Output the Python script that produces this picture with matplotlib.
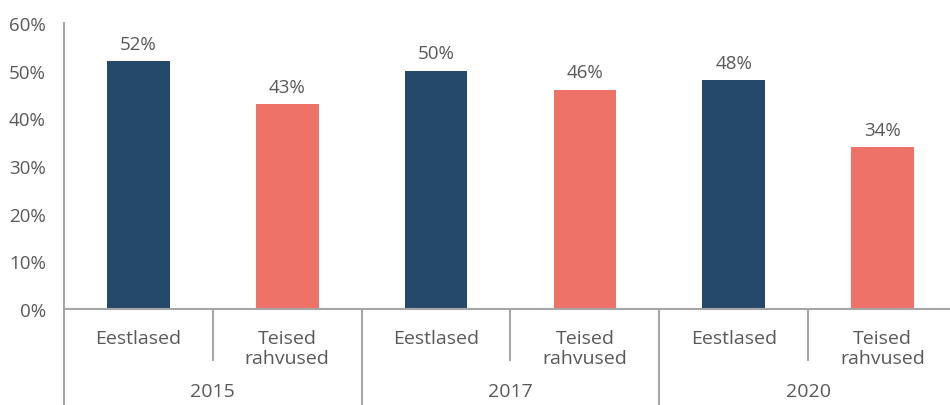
import matplotlib
matplotlib.use("Agg")
import matplotlib.pyplot as plt
from matplotlib.lines import Line2D

years = ["2015", "2017", "2020"]
groups = ["Eestlased", "Teised\nrahvused"]
values = [52, 43, 50, 46, 48, 34]
labels = ["52%", "43%", "50%", "46%", "48%", "34%"]
yticks = [0, 10, 20, 30, 40, 50, 60]

plt.rcParams['font.family'] = ['Open Sans', 'DejaVu Sans']
text_color = "#595959"
line_color = "#A6A6A6"
colors = ["#24496B", "#EE7268"]

fig = plt.figure(figsize=(9.5, 4.06), dpi=100)
W, H = 950, 406
ax = fig.add_axes([64 / W, (H - 310) / H, (957 - 64) / W, (310 - 24) / H])

n = len(values)
xs = list(range(n))
bar_colors = [colors[i % 2] for i in range(n)]
bars = ax.bar(xs, values, width=0.42, color=bar_colors, zorder=2)
for b, lab in zip(bars, labels):
    ax.annotate(lab, (b.get_x() + b.get_width() / 2, b.get_height()),
                xytext=(0, 6), textcoords="offset points",
                ha="center", va="bottom", fontsize=13.5, color=text_color)

ax.set_xlim(-0.5, n - 0.5)
ax.set_ylim(0, 60)
ax.set_yticks(yticks)
ax.set_yticklabels([f"{t}%" for t in yticks])
ax.tick_params(axis="y", length=0, pad=13, labelsize=13.5, labelcolor=text_color)
ax.set_xticks([])

for s in ["top", "right"]:
    ax.spines[s].set_visible(False)
for s in ["left", "bottom"]:
    ax.spines[s].set_color(line_color)
    ax.spines[s].set_linewidth(1.5)

trans = ax.get_xaxis_transform()
# sub-category labels
for i in range(n):
    ax.text(i, -0.07, groups[i % 2], transform=trans, ha="center", va="top",
            fontsize=14, color=text_color, linespacing=1.12)
# year labels
for j, y in enumerate(years):
    ax.text(2 * j + 0.5, -0.255, y, transform=trans, ha="center", va="top",
            fontsize=14, color=text_color)
# separators
for j in range(len(years)):
    ax.add_line(Line2D([2 * j + 0.5, 2 * j + 0.5], [0, -0.178], transform=trans,
                       color=line_color, lw=1.5, clip_on=False))
for j in range(len(years) + 1):
    ax.add_line(Line2D([2 * j - 0.5, 2 * j - 0.5], [0, -0.34], transform=trans,
                       color=line_color, lw=1.5, clip_on=False))

fig.savefig("out.png", dpi=100)
